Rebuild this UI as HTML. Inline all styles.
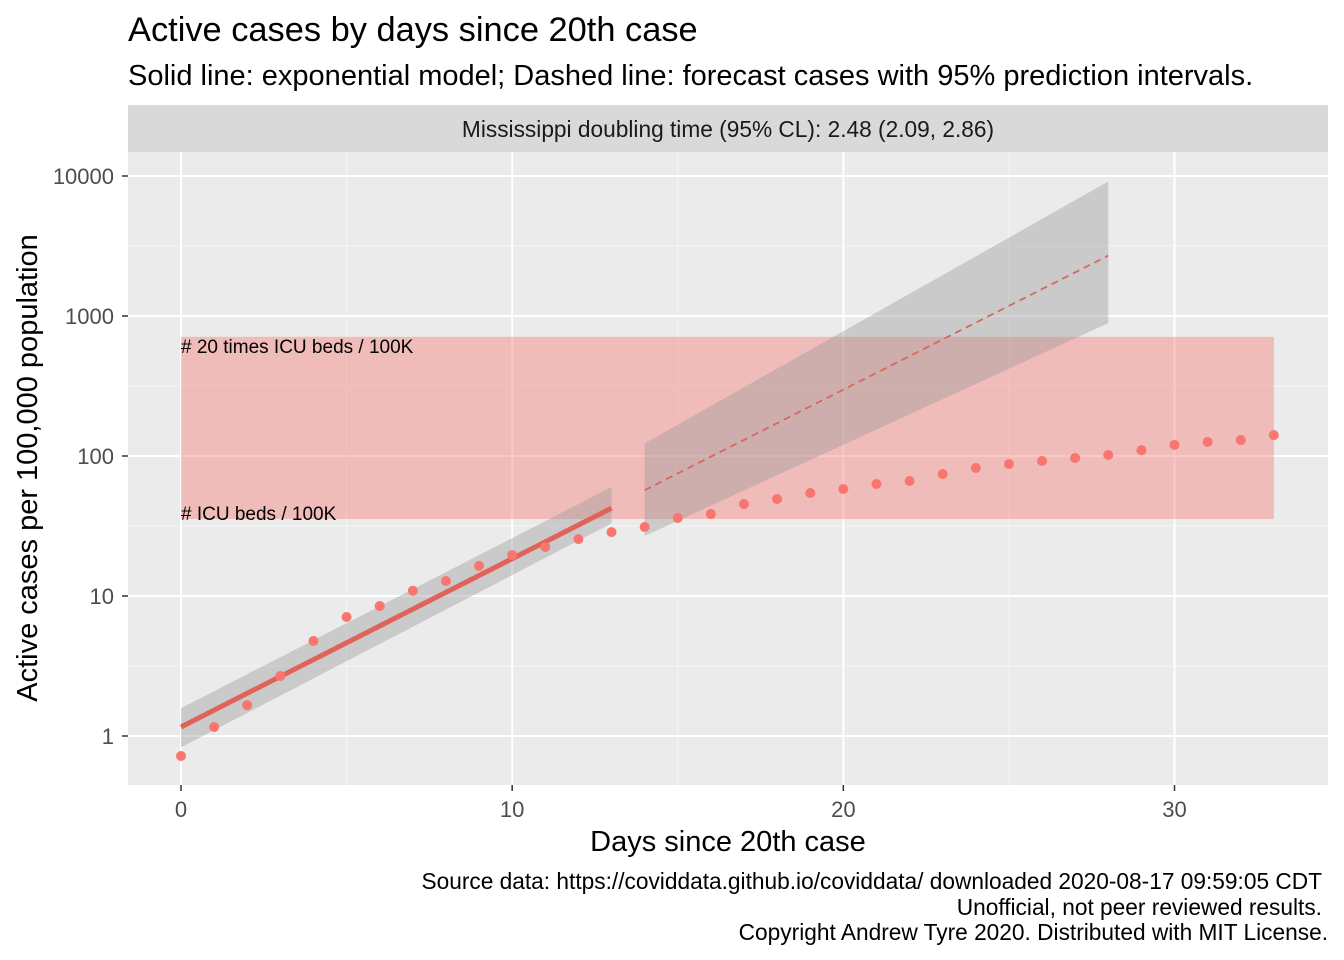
<!DOCTYPE html>
<html><head><meta charset="utf-8"><style>
body{margin:0;background:#fff;}
svg{display:block;font-family:"Liberation Sans",Arial,sans-serif;}
</style></head><body>
<svg id="chart" width="1344" height="960">
<rect width="1344" height="960" fill="#fff"/>
<text x="128" y="41" font-size="34.4" fill="#000">Active cases by days since 20th case</text>
<text x="128" y="85" font-size="29" fill="#000">Solid line: exponential model; Dashed line: forecast cases with 95% prediction intervals.</text>
<rect x="128" y="105" width="1200" height="47" fill="#d9d9d9"/>
<text x="728" y="137" font-size="22.7" text-anchor="middle" fill="#1a1a1a">Mississippi doubling time (95% CL): 2.48 (2.09, 2.86)</text>
<rect x="128" y="152" width="1200" height="633" fill="#ebebeb"/>
<g id="grid"></g>
<g id="marks"></g>
<g id="axes"></g>
<text transform="translate(37,468) rotate(-90)" font-size="29" text-anchor="middle" fill="#000">Active cases per 100,000 population</text>
<text x="728" y="851" font-size="29" text-anchor="middle" fill="#000">Days since 20th case</text>
<g font-size="22.7" text-anchor="end" fill="#000">
<text x="1322" y="889">Source data: https://coviddata.github.io/coviddata/ downloaded  2020-08-17 09:59:05 CDT</text>
<text x="1322" y="915">Unofficial, not peer reviewed results.</text>
<text x="1328" y="940">Copyright Andrew Tyre 2020. Distributed with MIT License.</text>
</g>
</svg>
<script>
const days=[0,1,2,3,4,5,6,7,8,9,10,11,12,13,14,15,16,17,18,19,20,21,22,23,24,25,26,27,28,29,30,31,32,33];
const cases=[0.72,1.16,1.66,2.68,4.77,7.08,8.48,10.9,12.8,16.4,19.6,22.4,25.5,28.6,31.1,36.1,38.5,45.4,49.3,54.4,58.1,63.1,66.3,74.4,82.1,87.7,92.1,96.8,101.7,110,120,126,130,141];
const fitDays=[0,13];
const fitVals=[1.16,42.4];
const fitUpper=[1.58,60];
const fitLower=[0.83,33];
const fcDays=[14,28];
const fcVals=[57,2700];
const fcUpper=[123,9130];
const fcLower=[26.8,890];
const icuBand=[35.5,710];
const icuDays=[0,33];
const xTicks=[0,10,20,30];
const yTicks=[1,10,100,1000,10000];
const yTickLabels=["1","10","100","1000","10000"];

const X=d=>181+d*33.117;
const Y=v=>736-Math.log10(v)*140;
const NS="http://www.w3.org/2000/svg";
function mk(parent,tag,attrs){const e=document.createElementNS(NS,tag);for(const k in attrs)e.setAttribute(k,attrs[k]);document.getElementById(parent).appendChild(e);return e;}

for(let i=0;i<yTicks.length;i++){
  const y=Y(yTicks[i]);
  const g=mk('grid','line',{x1:128,x2:1328,y1:y,y2:y,stroke:'#fff','stroke-width':2});
  
  
  if(i<yTicks.length-1){const ym=Y(yTicks[i]*Math.sqrt(10));
    const m=mk('grid','line',{x1:128,x2:1328,y1:ym,y2:ym,stroke:'#f5f5f5','stroke-width':1});
    
    }
  const t=mk('axes','text',{x:114,y:y+8,'font-size':22,'text-anchor':'end',fill:'#4d4d4d'});
  t.textContent=yTickLabels[i];
  
  
  const tk=mk('axes','line',{x1:122,x2:128,y1:y,y2:y,stroke:'#333','stroke-width':1.5});
  
  
}
for(let i=0;i<xTicks.length;i++){
  const x=X(xTicks[i]);
  const g=mk('grid','line',{x1:x,x2:x,y1:152,y2:785,stroke:'#fff','stroke-width':2});
  
  
  const xm=X(xTicks[i]+5);
  if(xm<1328){const m=mk('grid','line',{x1:xm,x2:xm,y1:152,y2:785,stroke:'#f5f5f5','stroke-width':1});
    
    }
  const t=mk('axes','text',{x:x,y:817,'font-size':22,'text-anchor':'middle',fill:'#4d4d4d'});
  t.textContent=xTicks[i];
  
  
  const tk=mk('axes','line',{x1:x,x2:x,y1:785,y2:791,stroke:'#333','stroke-width':1.5});
  
  
}
const band=mk('marks','rect',{x:X(icuDays[0]),y:Y(icuBand[1]),width:X(icuDays[1])-X(icuDays[0]),height:Y(icuBand[0])-Y(icuBand[1]),fill:'#f8766d','fill-opacity':0.4});


const l1=mk('marks','text',{x:X(0),y:Y(icuBand[1])+16,'font-size':19,fill:'#000'});
l1.textContent='# 20 times ICU beds / 100K';


const l2=mk('marks','text',{x:X(0),y:Y(icuBand[0])+1,'font-size':19,fill:'#000'});
l2.textContent='# ICU beds / 100K';


function ribbon(ds,up,lo,name){
  const pts=ds.map((d,i)=>X(d)+','+Y(up[i])).concat(ds.slice().reverse().map((d,i)=>X(d)+','+Y(lo[ds.length-1-i])));
  const p=mk('marks','polygon',{points:pts.join(' '),fill:'#999','fill-opacity':0.4});
  
  
}
ribbon(fitDays,fitUpper,fitLower,'fit-ribbon');
ribbon(fcDays,fcUpper,fcLower,'forecast-ribbon');
const fl=mk('marks','line',{x1:X(fitDays[0]),y1:Y(fitVals[0]),x2:X(fitDays[1]),y2:Y(fitVals[1]),stroke:'#e0635a','stroke-width':5});


const fc=mk('marks','line',{x1:X(fcDays[0]),y1:Y(fcVals[0]),x2:X(fcDays[1]),y2:Y(fcVals[1]),stroke:'#e0635a','stroke-width':1.8,'stroke-dasharray':'7,5'});


for(let i=0;i<days.length;i++){
  const c=mk('marks','circle',{cx:X(days[i]),cy:Y(cases[i]),r:5,fill:'#f8766d'});
  
  
}
</script>
</body></html>
